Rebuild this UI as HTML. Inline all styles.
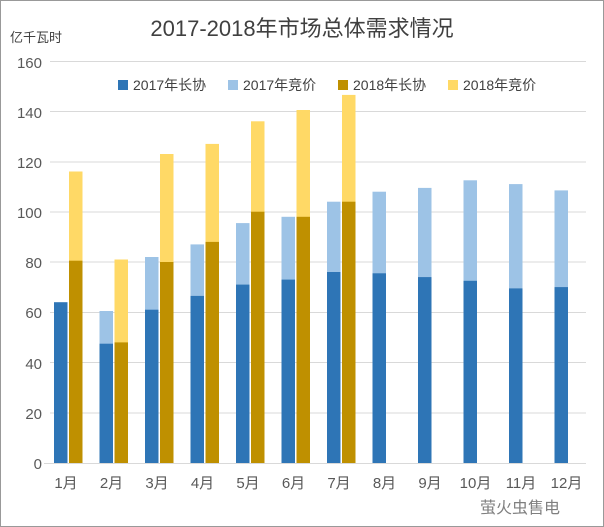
<!DOCTYPE html><html><head><meta charset="utf-8"><style>
body{margin:0;background:#fff}
svg{display:block;font-family:"Liberation Sans","Noto Sans CJK SC",sans-serif}
</style></head><body>
<svg width="604" height="527" viewBox="0 0 604 527">
<rect x="0.5" y="0.5" width="603" height="526" fill="#fff" stroke="#999"/>
<text x="302" y="36" font-size="22" fill="#404040" text-anchor="middle">2017-2018年市场总体需求情况</text>
<text x="10" y="42" font-size="13" fill="#404040">亿千瓦时</text>
<g stroke="#d9d9d9" stroke-width="1">
<line x1="50" x2="586" y1="61.5" y2="61.5"/><line x1="50" x2="586" y1="111.5" y2="111.5"/>
<line x1="50" x2="586" y1="162" y2="162"/><line x1="50" x2="586" y1="212" y2="212"/>
<line x1="50" x2="586" y1="262" y2="262"/><line x1="50" x2="586" y1="312.5" y2="312.5"/>
<line x1="50" x2="586" y1="362.5" y2="362.5"/><line x1="50" x2="586" y1="413" y2="413"/>
<line x1="44" x2="586" y1="463.5" y2="463.5"/>
</g>
<g font-size="15" fill="#595959" text-anchor="end">
<text x="42" y="68">160</text><text x="42" y="118">140</text><text x="42" y="168">120</text>
<text x="42" y="218">100</text><text x="42" y="268">80</text><text x="42" y="318">60</text>
<text x="42" y="369">40</text><text x="42" y="419">20</text><text x="42" y="469">0</text>
</g>
<g font-size="14">
<rect x="118" y="80" width="10" height="10" fill="#2e75b6"/><text x="133" y="90" fill="#404040">2017年长协</text>
<rect x="228" y="80" width="10" height="10" fill="#9dc3e6"/><text x="243" y="90" fill="#404040">2017年竞价</text>
<rect x="338" y="80" width="10" height="10" fill="#bf9000"/><text x="353" y="90" fill="#404040">2018年长协</text>
<rect x="448" y="80" width="10" height="10" fill="#ffd966"/><text x="463" y="90" fill="#404040">2018年竞价</text>
</g>
<g fill="#9dc3e6">
<rect x="99.5" y="311" width="13.5" height="152"/>
<rect x="145" y="257" width="13.5" height="206"/>
<rect x="190.5" y="244.4" width="13.5" height="218.6"/>
<rect x="236" y="223.1" width="13.5" height="239.9"/>
<rect x="281.5" y="216.8" width="13.5" height="246.2"/>
<rect x="327" y="201.7" width="13.5" height="261.3"/>
<rect x="372.5" y="191.7" width="13.5" height="271.3"/>
<rect x="418" y="187.9" width="13.5" height="275.1"/>
<rect x="463.5" y="180.3" width="13.5" height="282.7"/>
<rect x="509" y="184.1" width="13.5" height="278.9"/>
<rect x="554.5" y="190.4" width="13.5" height="272.6"/>
</g>
<g fill="#2e75b6">
<rect x="54" y="302.2" width="13.5" height="160.8"/>
<rect x="99.5" y="343.7" width="13.5" height="119.3"/>
<rect x="145" y="309.7" width="13.5" height="153.3"/>
<rect x="190.5" y="295.9" width="13.5" height="167.1"/>
<rect x="236" y="284.6" width="13.5" height="178.4"/>
<rect x="281.5" y="279.6" width="13.5" height="183.4"/>
<rect x="327" y="272" width="13.5" height="191"/>
<rect x="372.5" y="273.3" width="13.5" height="189.7"/>
<rect x="418" y="277.1" width="13.5" height="185.9"/>
<rect x="463.5" y="280.8" width="13.5" height="182.2"/>
<rect x="509" y="288.4" width="13.5" height="174.6"/>
<rect x="554.5" y="287.1" width="13.5" height="175.9"/>
</g>
<g fill="#ffd966">
<rect x="69" y="171.5" width="13.5" height="291.5"/>
<rect x="114.5" y="259.5" width="13.5" height="203.5"/>
<rect x="160" y="154" width="13.5" height="309"/>
<rect x="205.5" y="143.9" width="13.5" height="319.1"/>
<rect x="251" y="121.3" width="13.5" height="341.7"/>
<rect x="296.5" y="110" width="13.5" height="353"/>
<rect x="342" y="94.9" width="13.5" height="368.1"/>
</g>
<g fill="#bf9000">
<rect x="69" y="260.7" width="13.5" height="202.3"/>
<rect x="114.5" y="342.4" width="13.5" height="120.6"/>
<rect x="160" y="262" width="13.5" height="201"/>
<rect x="205.5" y="241.9" width="13.5" height="221.1"/>
<rect x="251" y="211.7" width="13.5" height="251.3"/>
<rect x="296.5" y="216.8" width="13.5" height="246.2"/>
<rect x="342" y="201.7" width="13.5" height="261.3"/>
</g>
<g font-size="15" fill="#595959" text-anchor="middle">
<text x="66" y="488">1月</text><text x="111.5" y="488">2月</text><text x="157" y="488">3月</text>
<text x="202.5" y="488">4月</text><text x="248" y="488">5月</text><text x="293.5" y="488">6月</text>
<text x="339" y="488">7月</text><text x="384.5" y="488">8月</text><text x="430" y="488">9月</text>
<text x="475.5" y="488">10月</text><text x="521" y="488">11月</text><text x="566.5" y="488">12月</text>
</g>
<text x="520" y="513" font-size="16" fill="#7f7f7f" text-anchor="middle">萤火虫售电</text>
</svg></body></html>
